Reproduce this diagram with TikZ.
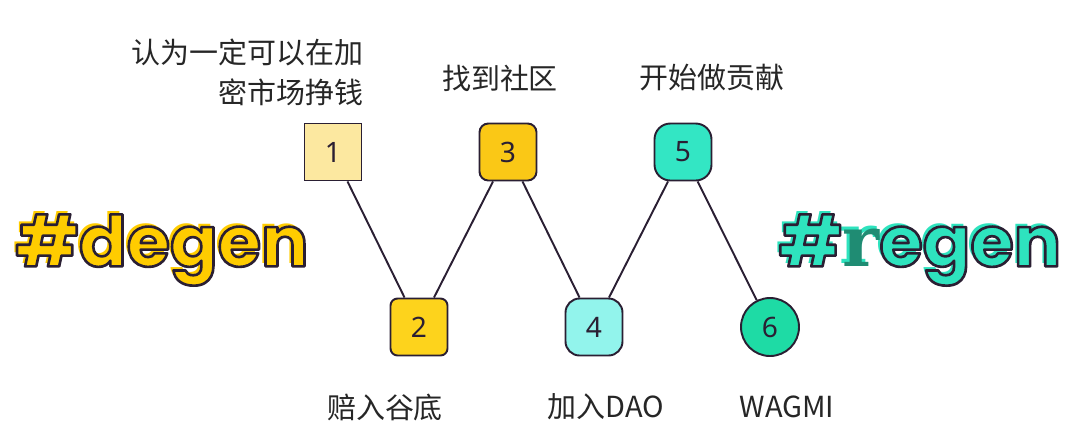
\documentclass[tikz,border=0pt]{standalone}
\usepackage{fontspec}
\setmainfont{Noto Sans}
\newfontfamily\cjk{Noto Sans CJK SC}
\newfontfamily\hashfont{Poppins}
\newfontfamily\slabfont{DejaVu Serif}
\usetikzlibrary{positioning}

\definecolor{ink}{HTML}{2A1F33}
\definecolor{pale}{HTML}{FCE8A0}
\definecolor{gold}{HTML}{FAC816}
\definecolor{sun}{HTML}{FDD31C}
\definecolor{aqua}{HTML}{92F4EC}
\definecolor{mint}{HTML}{33E6C4}
\definecolor{jade}{HTML}{1EDBA5}
\definecolor{hashyellow}{HTML}{FFCC00}
\definecolor{hashteal}{HTML}{2EE3BE}
\definecolor{slabteal}{HTML}{1F8C73}

% fill the glyphs, then stroke them in ink
\newcommand\inked[1]{\special{pdf:literal direct 2 Tr 1 j 1.5 w 0.165 0.122 0.2 RG}#1\special{pdf:literal direct 0 Tr}}

\begin{document}
\begin{tikzpicture}[x=0.02cm,y=-0.02cm,
  step box/.style={draw=ink,line width=1.1pt,minimum size=1.14cm,inner sep=0pt,
    text=ink,font=\fontsize{16}{16}\selectfont},
  lab/.style={text=black!85,font=\cjk\fontsize{16.5}{22.7}\selectfont,inner sep=0pt},
  hash/.style={font=\hashfont\bfseries\fontsize{40}{40}\selectfont,inner sep=0pt},
  link/.style={draw=ink,line width=1.1pt}]
\useasboundingbox (0,0) rectangle (1078,441);
% the six steps
\node[step box,fill=pale] (n1) at (333,152) {1};
\node[step box,fill=sun,rounded corners=4pt] (n2) at (419,327) {2};
\node[step box,fill=gold,rounded corners=5pt] (n3) at (508,152) {3};
\node[step box,fill=aqua,rounded corners=8pt] (n4) at (594,327) {4};
\node[step box,fill=mint,rounded corners=9pt] (n5) at (683,152) {5};
\node[step box,fill=jade,circle,minimum size=1.16cm] (n6) at (770,327) {6};
\foreach \a/\b in {n1/n2,n2/n3,n3/n4,n4/n5,n5/n6}
  \draw[link] (\a) -- (\b);
% labels
\node[lab,align=right,anchor=east] (t1) at (364,72) {认为一定可以在加\\密市场挣钱};
\node[lab] (t3) at (500,78) {找到社区};
\node[lab] (t5) at (712,78) {开始做贡献};
\node[lab] (t2) at (385,407) {赔入谷底};
\node[lab] (t4) at (606,407) {加入DAO};
\node[lab] (t6) at (787,407) {WAGMI};
% degen / regen
\node[hash,text=hashyellow,xshift=-0.05cm,yshift=0.05cm] (degenglow) at (162,250) {\#degen};
\node[hash,text=hashyellow] (degen) at (162,250) {\inked{\#degen}};
\node[hash,text=hashteal,xshift=-0.05cm,yshift=0.05cm] (regenglow) at (920,250) {\#{\slabfont\bfseries r}egen};
\node[hash,text=hashteal] (regen) at (920,250) {\inked{\#}{\slabfont\bfseries\color{slabteal}r}\inked{egen}};
\end{tikzpicture}
\end{document}
